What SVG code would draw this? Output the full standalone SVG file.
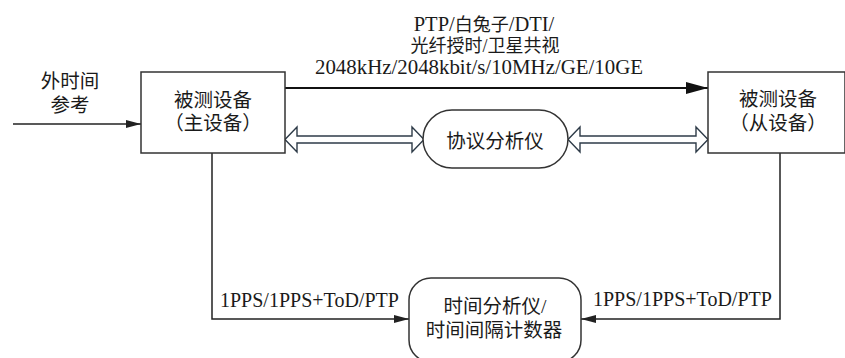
<svg xmlns="http://www.w3.org/2000/svg" width="845" height="358" viewBox="0 0 845 358">
<defs>
<style>
.t{font-family:"Liberation Serif","Noto Sans CJK SC",serif;fill:#1a1a1a;}
.c{font-size:19.5px;text-anchor:middle;}
.l{font-size:20px;}
.box{fill:#fff;stroke:#333;stroke-width:1.5;}
.ln{fill:none;stroke:#222;stroke-width:1.5;}
.dbl{fill:#fff;stroke:#2e3b48;stroke-width:1.4;stroke-linejoin:miter;}
</style>
<marker id="ah" markerWidth="15" markerHeight="8" refX="15" refY="4" orient="auto" markerUnits="userSpaceOnUse">
<path d="M0,0 L15,4 L0,8 Z" fill="#222"/>
</marker>
<marker id="ahb" markerWidth="22" markerHeight="12" refX="22" refY="6" orient="auto" markerUnits="userSpaceOnUse">
<path d="M0,0 L22,6 L0,12 Z" fill="#111"/>
</marker>
</defs>
<rect width="845" height="358" fill="#fff"/>

<g id="connectors">
<line class="ln" x1="13" y1="124" x2="141" y2="124" marker-end="url(#ah)"/>
<line x1="285" y1="88" x2="708" y2="88" stroke="#111" stroke-width="2" marker-end="url(#ahb)"/>
<polygon class="dbl" points="285,139.5 297,127 297,136 412,136 412,127 424,139.5 412,152 412,143 297,143 297,152"/>
<polygon class="dbl" points="568,139.5 580,127 580,136 696,136 696,127 708,139.5 696,152 696,143 580,143 580,152"/>
<polyline class="ln" points="212,153 212,319 409,319" marker-end="url(#ah)"/>
<polyline class="ln" points="780,153 780,319 581,319" marker-end="url(#ah)"/>
</g>

<g id="ext-ref">
<text class="t c" x="70" y="88">外时间</text>
<text class="t c" x="70" y="112">参考</text>
</g>

<g id="top-label">
<text class="t" x="484" y="31" text-anchor="middle" font-size="20.5">PTP/<tspan font-size="18">白兔子</tspan>/DTI/</text>
<text class="t" x="485" y="52" text-anchor="middle" font-size="18">光纤授时/卫星共视</text>
<text class="t" x="479" y="74" text-anchor="middle" font-size="20" textLength="328" lengthAdjust="spacingAndGlyphs">2048kHz/2048kbit/s/10MHz/GE/10GE</text>
</g>

<g id="master">
<rect class="box" x="141" y="72" width="144" height="81"/>
<text class="t c" x="213" y="107">被测设备</text>
<text class="t c" x="213" y="130">（主设备）</text>
</g>

<g id="slave">
<rect class="box" x="708" y="72" width="137" height="81"/>
<text class="t c" x="778" y="106">被测设备</text>
<text class="t c" x="778" y="130">（从设备）</text>
</g>

<g id="protocol-analyzer">
<rect class="box" x="423" y="110" width="145" height="58" rx="29" ry="29"/>
<text class="t c" x="495" y="148">协议分析仪</text>
</g>

<g id="time-analyzer">
<rect class="box" x="409" y="278" width="172" height="84" rx="22" ry="22"/>
<text class="t c" x="495" y="313">时间分析仪/</text>
<text class="t c" x="494" y="337">时间间隔计数器</text>
</g>

<g id="labels">
<text class="t l" x="220" y="307">1PPS/1PPS+ToD/PTP</text>
<text class="t l" x="593" y="306">1PPS/1PPS+ToD/PTP</text>
</g>
</svg>
